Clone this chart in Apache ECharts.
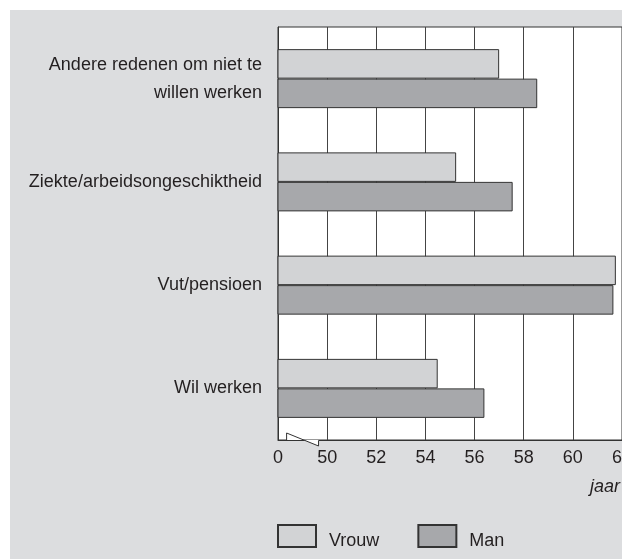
<!DOCTYPE html>
<html>
<head>
<meta charset="utf-8">
<script src="https://cdn.jsdelivr.net/npm/echarts@6/dist/echarts.min.js"></script>
<style>
  html, body { margin: 0; padding: 0; background: #fff; overflow: hidden; }
  #bg { position: absolute; left: 10px; top: 10px; right: 0; bottom: 0; background: #dcdddf; }
  #chart { position: absolute; left: 0; top: 0; width: 622px; height: 559px; }
</style>
</head>
<body>
<div id="bg"></div>
<div id="chart"></div>
<script>
// categories top to bottom
const categories = [
  'Andere redenen om niet te\nwillen werken',
  'Ziekte/arbeidsongeschiktheid',
  'Vut/pensioen',
  'Wil werken'
]
const vrouw = [57.0, 55.25, 61.75, 54.5]
const man = [58.55, 57.55, 61.65, 56.4]
// axis starts at 48 but is shown as 0 (broken axis)
const axisMin = 48
const axisMax = 62
const tickStep = 2

const font = 'Liberation Sans, Arial, Helvetica, sans-serif'

const gridTop = 27
const gridBottom = 119
const gridLeft = 278

let option = {
  animation: false,
  backgroundColor: 'transparent',
  textStyle: { fontFamily: font },
  grid: {
    left: gridLeft,
    right: 0,
    top: gridTop,
    bottom: gridBottom,
    outerBoundsMode: 'none',
    containLabel: false,
    show: true,
    backgroundColor: '#fff',
    borderColor: '#333',
    borderWidth: 1
  },
  legend: {
    data: ['Vrouw', 'Man'],
    left: 277,
    top: 524,
    padding: 0,
    icon: 'rect',
    itemWidth: 38,
    itemHeight: 22,
    itemGap: 38,
    formatter: name => '{t|' + name + '}',
    textStyle: {
      fontFamily: font,
      fontSize: 18,
      color: '#231f20',
      rich: {
        t: {
          fontFamily: font,
          fontSize: 18,
          color: '#231f20',
          padding: [10, 0, 0, 8]
        }
      }
    }
  },
  xAxis: {
    type: 'value',
    min: axisMin,
    max: axisMax,
    interval: tickStep,
    axisLine: { show: true, lineStyle: { color: '#333', width: 1 } },
    axisTick: { show: false },
    splitLine: { show: true, lineStyle: { color: '#444', width: 1 } },
    axisLabel: {
      color: '#231f20',
      fontFamily: font,
      fontSize: 18,
      margin: 9,
      hideOverlap: false,
      showMaxLabel: true,
      formatter: v => (v === axisMin ? '0' : String(v))
    }
  },
  yAxis: {
    type: 'category',
    inverse: true,
    data: categories,
    axisLine: { show: true, lineStyle: { color: '#333', width: 1 } },
    axisTick: { show: false },
    axisLabel: {
      color: '#231f20',
      fontFamily: font,
      fontSize: 18,
      lineHeight: 28,
      margin: 16
    }
  },
  series: [
    {
      name: 'Vrouw',
      type: 'bar',
      data: vrouw,
      barWidth: 29.5,
      barGap: '0%',
      itemStyle: { color: '#d2d3d5', borderColor: '#333', borderWidth: 1 }
    },
    {
      name: 'Man',
      type: 'bar',
      data: man,
      barWidth: 29.5,
      barGap: '0%',
      itemStyle: { color: '#a7a8ab', borderColor: '#333', borderWidth: 1 }
    }
  ]
}

const myChart = echarts.init(document.getElementById('chart'), null, { renderer: 'canvas' })
myChart.setOption(option)

// axis break marker and unit label
const axisY = 559 - gridBottom
const bx1 = myChart.convertToPixel({ xAxisIndex: 0 }, 48.35)
const bx2 = myChart.convertToPixel({ xAxisIndex: 0 }, 49.65)
myChart.setOption({
  graphic: [
    {
      type: 'polygon',
      z: 100,
      shape: { points: [[bx1, axisY], [bx1, axisY - 7], [bx2, axisY + 6], [bx2, axisY]] },
      style: { fill: '#fff', stroke: null }
    },
    {
      type: 'polyline',
      z: 101,
      shape: { points: [[bx1, axisY + 0.5], [bx1, axisY - 7], [bx2, axisY + 6], [bx2, axisY + 0.5]] },
      style: { stroke: '#333', lineWidth: 1, fill: null }
    },
    {
      type: 'text',
      z: 101,
      left: 590,
      top: 478,
      style: {
        text: 'jaar',
        font: 'italic 18px ' + font,
        fill: '#231f20'
      }
    }
  ]
})
</script>
</body>
</html>
